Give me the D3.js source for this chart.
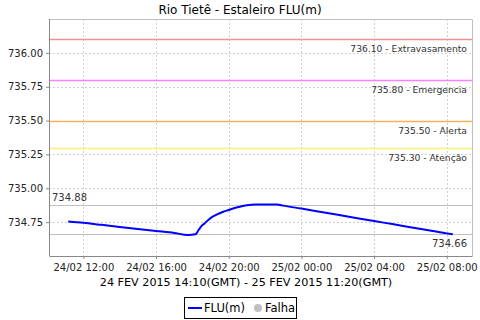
<!DOCTYPE html>
<html>
<head>
<meta charset="utf-8">
<script src="https://cdn.jsdelivr.net/npm/d3@7"></script>
<style>
  body { margin: 0; background: #fff; }
  text { font-family: "DejaVu Sans", sans-serif; }
</style>
</head>
<body>
<script>
// local clock time (GMT-3) of each reading, level in metres
var times = ["2015-02-24 11:10", "2015-02-24 12:00", "2015-02-24 13:00", "2015-02-24 14:00",
  "2015-02-24 15:00", "2015-02-24 16:00", "2015-02-24 17:00", "2015-02-24 17:45",
  "2015-02-24 18:10", "2015-02-24 18:20", "2015-02-24 18:30", "2015-02-24 18:40",
  "2015-02-24 19:00", "2015-02-24 19:20", "2015-02-24 19:40", "2015-02-24 20:00",
  "2015-02-24 20:20", "2015-02-24 20:40", "2015-02-24 21:00", "2015-02-24 21:30",
  "2015-02-24 22:00", "2015-02-24 22:40", "2015-02-24 23:00", "2015-02-25 00:00",
  "2015-02-25 01:00", "2015-02-25 02:00", "2015-02-25 03:00", "2015-02-25 04:00",
  "2015-02-25 05:00", "2015-02-25 06:00", "2015-02-25 07:00", "2015-02-25 08:00",
  "2015-02-25 08:20"];
var levels = [734.755, 734.745, 734.73, 734.715, 734.70, 734.685, 734.67, 734.655,
  734.66, 734.69, 734.72, 734.74, 734.78, 734.805, 734.825, 734.84,
  734.855, 734.865, 734.875, 734.88, 734.88, 734.88, 734.872, 734.85,
  734.827, 734.804, 734.781, 734.758, 734.736, 734.713, 734.69, 734.667,
  734.66];

var limits = [736.10, 735.80, 735.50, 735.30];
var limitNames = ["Extravasamento", "Emergencia", "Alerta", "Atenção"];
var limitColors = ["#f09090", "#ff80ff", "#ffb050", "#f8f070"];

var yTicks = [734.75, 735.00, 735.25, 735.50, 735.75, 736.00];
var xTicks = ["2015-02-24 12:00", "2015-02-24 16:00", "2015-02-24 20:00",
  "2015-02-25 00:00", "2015-02-25 04:00", "2015-02-25 08:00"];

var title = "Rio Tietê - Estaleiro FLU(m)";
var subtitle = "24 FEV 2015 14:10(GMT) - 25 FEV 2015 11:20(GMT)";

var width = 480, height = 320;
var margin = {top: 19, right: 8, bottom: 64, left: 49};

var parse = d3.utcParse("%Y-%m-%d %H:%M");
var data = times.map(function(t, i) { return {t: parse(t), v: levels[i]}; });

var svg = d3.select("body").append("svg")
    .attr("width", width)
    .attr("height", height);

var tExt = d3.extent(data, function(d) { return d.t; });
var pad = (tExt[1] - tExt[0]) * 0.05;
var x = d3.scaleUtc()
    .domain([new Date(+tExt[0] - pad), new Date(+tExt[1] + pad)])
    .range([margin.left, width - margin.right]);
var y = d3.scaleLinear()
    .domain([734.5, 736.25])
    .range([height - margin.bottom, margin.top]);

var x0 = margin.left, x1 = width - margin.right;
var y0 = margin.top, y1 = height - margin.bottom;

// grid
svg.append("g").selectAll("line.v")
    .data(xTicks.map(parse))
    .enter().append("line")
    .attr("x1", function(d) { return Math.round(x(d)) + 0.5; })
    .attr("x2", function(d) { return Math.round(x(d)) + 0.5; })
    .attr("y1", y0).attr("y2", y1)
    .style("stroke", "#d0d0d0")
    .style("stroke-dasharray", "2,2");
svg.append("g").selectAll("line.h")
    .data(yTicks)
    .enter().append("line")
    .attr("x1", x0).attr("x2", x1)
    .attr("y1", function(d) { return Math.round(y(d)) + 0.5; })
    .attr("y2", function(d) { return Math.round(y(d)) + 0.5; })
    .style("stroke", "#d0d0d0")
    .style("stroke-dasharray", "2,2");

// plot border (top, right)
svg.append("path")
    .attr("d", "M" + x0 + "," + (y0 + 0.5) + "H" + (x1 + 0.5) + "V" + y1)
    .style("fill", "none")
    .style("stroke", "#c0c0c0");

// threshold lines
limits.forEach(function(l, i) {
  svg.append("line")
      .attr("x1", x0).attr("x2", x1)
      .attr("y1", Math.round(y(l)) + 0.5).attr("y2", Math.round(y(l)) + 0.5)
      .style("stroke", limitColors[i])
      .style("stroke-width", 1.5);
  svg.append("text")
      .attr("x", x1 - 5)
      .attr("y", y(l) + 13)
      .attr("text-anchor", "end")
      .style("font-size", "9.2px")
      .style("fill", "#333")
      .text(l.toFixed(2) + " - " + limitNames[i]);
});

// max / last lines
var vMax = d3.max(levels), vLast = levels[levels.length - 1];
[vMax, vLast].forEach(function(v) {
  svg.append("line")
      .attr("x1", x0).attr("x2", x1)
      .attr("y1", Math.round(y(v)) + 0.5).attr("y2", Math.round(y(v)) + 0.5)
      .style("stroke", "#c0c0c0")
      .style("stroke-width", 1.2);
});
svg.append("text")
    .attr("x", x0 + 3).attr("y", y(vMax) - 4)
    .style("font-size", "10px").style("fill", "#333")
    .text(vMax.toFixed(2));
svg.append("text")
    .attr("x", x1 - 5).attr("y", y(vLast) + 13)
    .attr("text-anchor", "end")
    .style("font-size", "10px").style("fill", "#333")
    .text(vLast.toFixed(2));

// series
var line = d3.line()
    .x(function(d) { return x(d.t); })
    .y(function(d) { return y(d.v); })
    .curve(d3.curveMonotoneX);
svg.append("path")
    .datum(data)
    .attr("d", line)
    .style("fill", "none")
    .style("stroke", "#0000ff")
    .style("stroke-width", 2);

// axes
var yAxis = svg.append("g")
    .attr("transform", "translate(" + x0 + ",0)")
    .call(d3.axisLeft(y).tickValues(yTicks).tickFormat(d3.format(".2f")).tickSize(3).tickSizeOuter(0));
var xAxis = svg.append("g")
    .attr("transform", "translate(0," + y1 + ")")
    .call(d3.axisBottom(x).tickValues(xTicks.map(parse)).tickFormat(d3.utcFormat("%d/%m %H:%M")).tickSize(3).tickSizeOuter(0));
[yAxis, xAxis].forEach(function(a) {
  a.select(".domain").style("stroke", "#888");
  a.selectAll(".tick line").style("stroke", "#888");
  a.selectAll("text").style("font-family", "DejaVu Sans, sans-serif")
      .style("font-size", "10px").style("fill", "#222");
});
yAxis.select(".domain").attr("d", "M0.5," + y0 + "V" + y1);
xAxis.selectAll("text").attr("dy", "0.9em");

// titles
svg.append("text")
    .attr("x", width / 2).attr("y", 14)
    .attr("text-anchor", "middle")
    .style("font-size", "12px")
    .text(title);
svg.append("text")
    .attr("x", width / 2 + 6).attr("y", 286)
    .attr("text-anchor", "middle")
    .style("font-size", "11.2px")
    .text(subtitle);

// legend
var lg = svg.append("g").attr("transform", "translate(184,297)");
lg.append("rect")
    .attr("x", 0.5).attr("y", 0.5).attr("width", 112).attr("height", 21)
    .style("fill", "#fff").style("stroke", "#000");
lg.append("line")
    .attr("x1", 4).attr("x2", 18).attr("y1", 11).attr("y2", 11)
    .style("stroke", "#0000ff").style("stroke-width", 2);
lg.append("text").attr("x", 20).attr("y", 15)
    .style("font-size", "11.5px").text("FLU(m)");
lg.append("circle").attr("cx", 74).attr("cy", 11).attr("r", 4)
    .style("fill", "#c0c0c0");
lg.append("text").attr("x", 81).attr("y", 15)
    .style("font-size", "11.5px").text("Falha");
</script>
</body>
</html>
